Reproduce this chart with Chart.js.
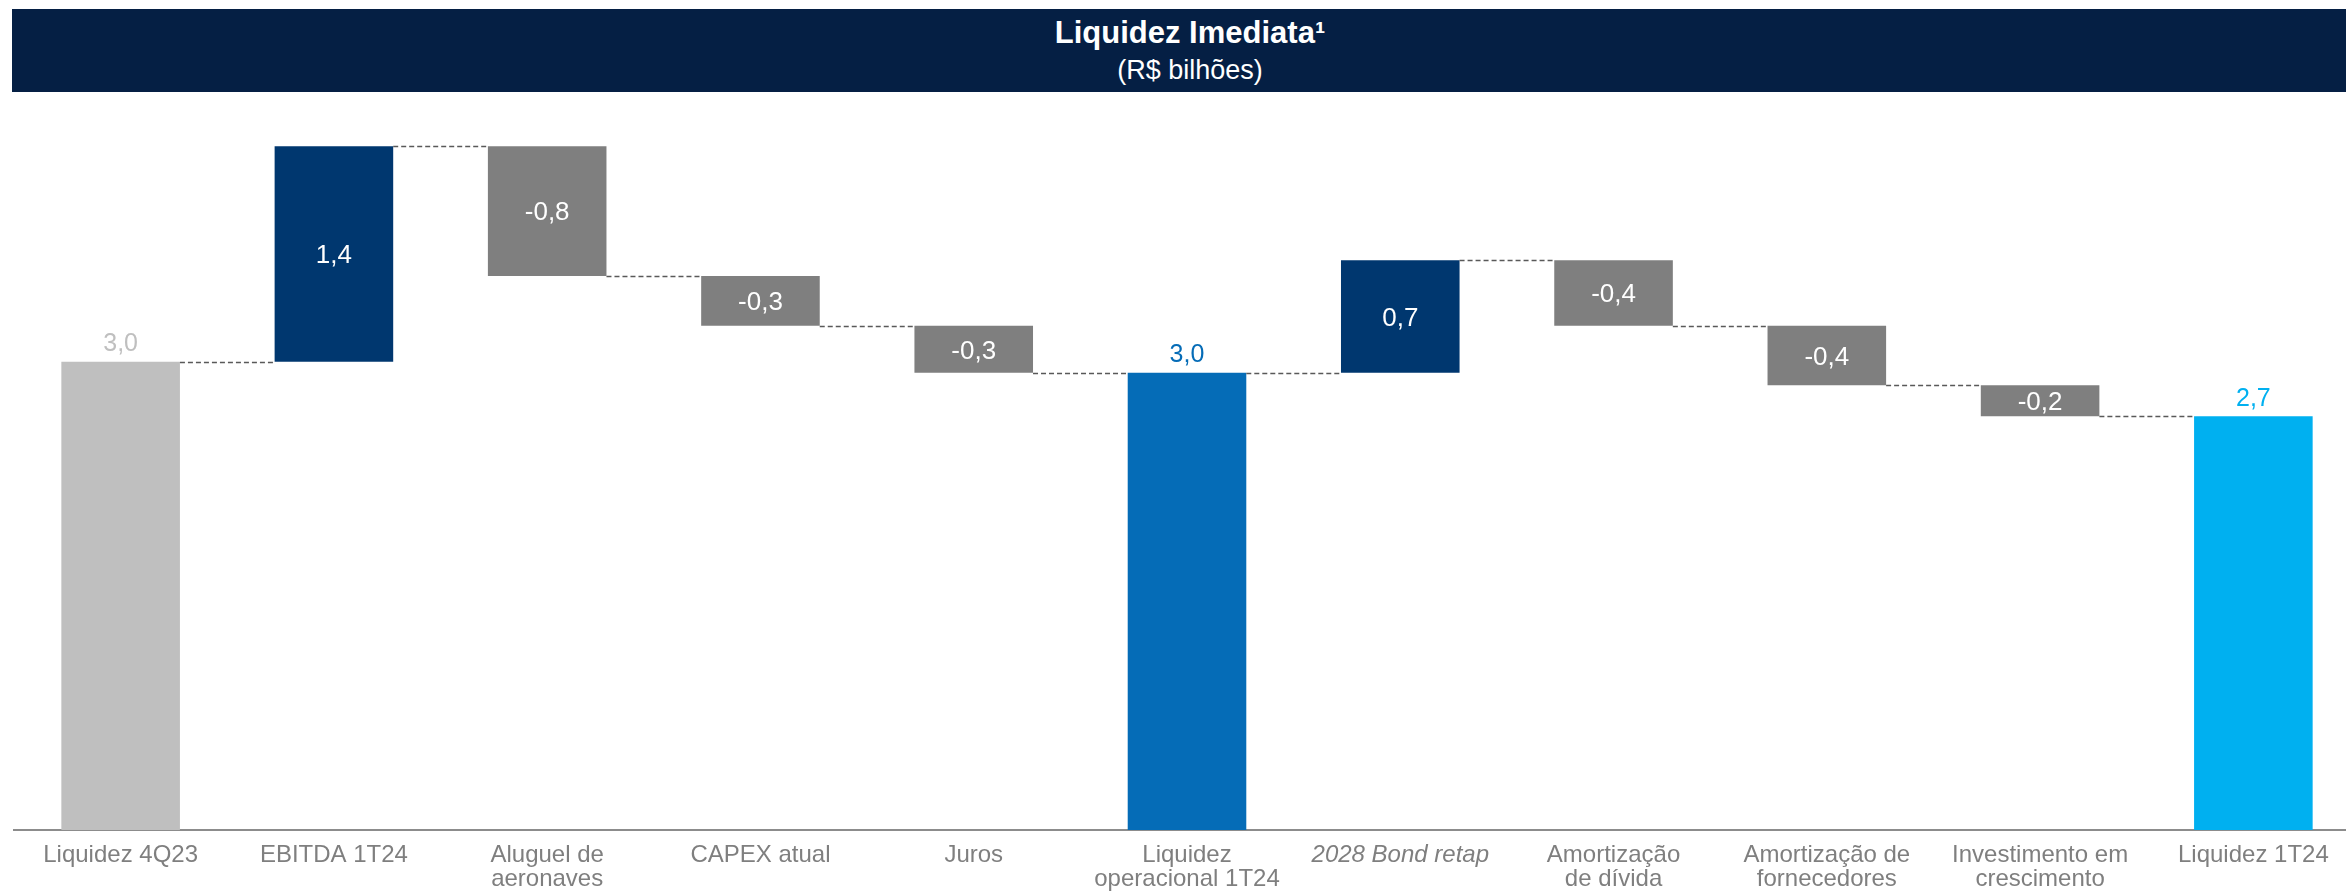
<!DOCTYPE html>
<html>
<head>
<meta charset="utf-8">
<script src="https://cdn.jsdelivr.net/npm/chart.js@4.4.1/dist/chart.umd.min.js"></script>
<style>
  html, body { margin: 0; padding: 0; background: #ffffff; overflow: hidden; width: 2346px; height: 893px; }
  #band { position: absolute; left: 12px; top: 9px; width: 2334px; height: 83px; background: #051F44; }
  .t { position: absolute; left: 0; width: 100%; text-align: center; color: #ffffff; font-family: "Liberation Sans", Arial, sans-serif; white-space: nowrap; padding-left: 22px; box-sizing: border-box; }
  #title { top: 8px; font-size: 31px; line-height: 31px; font-weight: bold; }
  #subtitle { top: 48px; font-size: 27px; line-height: 27px; }
  #wrap { position: absolute; left: 0; top: 0; }
</style>
</head>
<body>
<div id="wrap"><canvas id="c" width="2362" height="893"></canvas></div>
<div id="band">
  <div class="t" id="title">Liquidez Imediata¹</div>
  <div class="t" id="subtitle">(R$ bilhões)</div>
</div>
<script>
// ---- Data ----
const categories = [
  'Liquidez 4Q23',
  'EBITDA 1T24',
  ['Aluguel de', 'aeronaves'],
  'CAPEX atual',
  'Juros',
  ['Liquidez', 'operacional 1T24'],
  '2028 Bond retap',
  ['Amortização', 'de dívida'],
  ['Amortização de', 'fornecedores'],
  ['Investimento em', 'crescimento'],
  'Liquidez 1T24'
];
const kinds = ['total', 'delta', 'delta', 'delta', 'delta', 'total', 'delta', 'delta', 'delta', 'delta', 'total'];
const values = [3.0, 1.38, -0.83, -0.32, -0.30, 2.93, 0.72, -0.42, -0.38, -0.20, 2.65];
const valueLabels = ['3,0', '1,4', '-0,8', '-0,3', '-0,3', '3,0', '0,7', '-0,4', '-0,4', '-0,2', '2,7'];
const barColors = ['#BFBFBF', '#00376F', '#7F7F7F', '#7F7F7F', '#7F7F7F', '#056CB7', '#00376F', '#7F7F7F', '#7F7F7F', '#7F7F7F', '#00B0F0'];
const italicCategory = [false, false, false, false, false, false, true, false, false, false, false];

// ---- Build floating ranges ----
const ranges = [];
const levels = [];
let cum = 0;
values.forEach((v, i) => {
  if (kinds[i] === 'total') {
    ranges.push([0, v]);
    cum = v;
  } else {
    ranges.push([cum, cum + v]);
    cum = cum + v;
  }
  levels.push(cum);
});

const FONT = '"Liberation Sans", Arial, sans-serif';

const waterfallPlugin = {
  id: 'waterfall',
  afterDatasetsDraw(chart) {
    const ctx = chart.ctx;
    const meta = chart.getDatasetMeta(0);
    const ys = chart.scales.y;
    ctx.save();
    // connectors
    ctx.strokeStyle = '#595959';
    ctx.lineWidth = 1.5;
    ctx.setLineDash([5, 3]);
    for (let i = 0; i < meta.data.length - 1; i++) {
      const a = meta.data[i], b = meta.data[i + 1];
      const yp = Math.round(ys.getPixelForValue(levels[i])) + 0.5;
      ctx.beginPath();
      ctx.moveTo(a.x + a.width / 2, yp);
      ctx.lineTo(b.x - b.width / 2, yp);
      ctx.stroke();
    }
    ctx.setLineDash([]);
    // labels
    ctx.textAlign = 'center';
    ctx.textBaseline = 'alphabetic';
    meta.data.forEach((el, i) => {
      const top = Math.min(el.y, el.base);
      const bot = Math.max(el.y, el.base);
      if (kinds[i] === 'total') {
        ctx.font = '25px ' + FONT;
        ctx.fillStyle = barColors[i];
        ctx.fillText(valueLabels[i], el.x, top - 10.5);
      } else {
        ctx.font = '26px ' + FONT;
        ctx.fillStyle = '#FFFFFF';
        ctx.fillText(valueLabels[i], el.x, (top + bot) / 2 + 9.3);
      }
    });
    ctx.restore();
  }
};

new Chart(document.getElementById('c'), {
  type: 'bar',
  data: {
    labels: categories,
    datasets: [{
      data: ranges,
      backgroundColor: barColors,
      borderWidth: 0,
      barPercentage: 0.556,
      categoryPercentage: 1.0
    }]
  },
  options: {
    responsive: false,
    animation: false,
    devicePixelRatio: 1,
    layout: { padding: { left: 14, right: 2, top: 112, bottom: 0 } },
    plugins: {
      legend: { display: false },
      tooltip: { enabled: false },
      title: { display: false }
    },
    scales: {
      x: {
        grid: { display: false, drawTicks: false },
        border: { display: true, color: '#8C8C8C', width: 2 },
        ticks: {
          color: '#7F7F7F',
          padding: 13,
          maxRotation: 0,
          autoSkip: false,
          font: (c) => ({ family: FONT, size: 24, lineHeight: 1.0, style: italicCategory[c.index] ? 'italic' : 'normal' })
        },
        afterFit: (s) => { s.height = 63; }
      },
      y: {
        display: false,
        min: 0,
        max: 4.6
      }
    }
  },
  plugins: [waterfallPlugin]
});
</script>
</body>
</html>
